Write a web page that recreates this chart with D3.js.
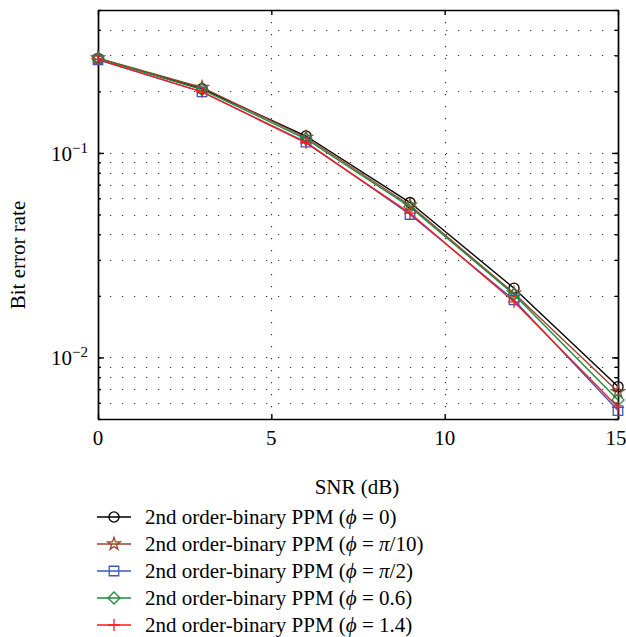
<!DOCTYPE html>
<meta charset="utf-8">
<style>
  body {margin: 0; background: #fff;}
  text {font-family: 'Liberation Serif', 'DejaVu Serif', serif; fill: #000;}
</style>
<body>
<svg width="626" height="637"></svg>
<script src="https://cdnjs.cloudflare.com/ajax/libs/d3/7.8.5/d3.min.js"></script>
<script>

// SNR values (dB)
var snr = [0, 3, 6, 9, 12, 15];

// bit error rate, one array per phase offset
var berPhi0     = [0.290, 0.206, 0.121, 0.0572, 0.0218, 0.0072];
var berPhiPi10  = [0.291, 0.209, 0.119, 0.0555, 0.0206, 0.0068];
var berPhiPi2   = [0.285, 0.199, 0.113, 0.0500, 0.0191, 0.0055];
var berPhi06    = [0.290, 0.204, 0.117, 0.0545, 0.0203, 0.0062];
var berPhi14    = [0.287, 0.199, 0.112, 0.0508, 0.0187, 0.0057];

var seriesPhi = ["0", "π/10", "π/2", "0.6", "1.4"];
var seriesItalicPi = [false, true, true, false, false];
var seriesColor = ["#000000", "#a0402c", "#3b57c4", "#1e8a3c", "#ff1a1a"];
var seriesMarker = ["circle", "star", "square", "diamond", "plus"];
var seriesValues = [berPhi0, berPhiPi10, berPhiPi2, berPhi06, berPhi14];

var xTicks = [0, 5, 10, 15];
var yMajor = [0.1, 0.01];
var yTickText = [["10", "−1"], ["10", "−2"]];

var svg = d3.select("svg");
var pLeft = 98, pRight = 618, pTop = 10, pBottom = 419;

var x = d3.scaleLinear().domain([0, 15]).range([pLeft, pRight]);
var y = d3.scaleLog().domain([0.005, 0.5]).range([pBottom, pTop]);

// minor grid values for the log axis
var yMinor = [];
[0.001, 0.01, 0.1].forEach(function(dec) {
  for (var k = 1; k <= 9; k++) {
    var v = +(dec * k).toPrecision(3);
    if (v >= 0.005 && v <= 0.5) yMinor.push(v);
  }
});

// dotted grid
var grid = svg.append("g")
    .attr("stroke", "#333")
    .attr("stroke-width", 1.2)
    .attr("stroke-dasharray", "1.2,10.8");

grid.selectAll("line.h")
    .data(yMinor.filter(function(v) { return v > 0.005 && v < 0.5; }))
  .enter().append("line")
    .attr("x1", pLeft).attr("x2", pRight)
    .attr("y1", function(d) { return Math.round(y(d)) + 0.5; })
    .attr("y2", function(d) { return Math.round(y(d)) + 0.5; });

grid.selectAll("line.v")
    .data(xTicks.filter(function(v) { return v > 0 && v < 15; }))
  .enter().append("line")
    .attr("y1", pTop).attr("y2", pBottom)
    .attr("x1", function(d) { return Math.round(x(d)) + 0.5; })
    .attr("x2", function(d) { return Math.round(x(d)) + 0.5; });

// axes with inward ticks
var axisBottom = d3.axisBottom(x).tickValues(xTicks).tickSizeInner(-5).tickSizeOuter(0).tickFormat("");
var axisTop = d3.axisTop(x).tickValues(xTicks).tickSizeInner(-5).tickSizeOuter(0).tickFormat("");
var axisLeft = d3.axisLeft(y).tickValues(yMinor).tickSizeInner(-3).tickSizeOuter(0).tickFormat("");
var axisRight = d3.axisRight(y).tickValues(yMinor).tickSizeInner(-3).tickSizeOuter(0).tickFormat("");
var axisLeftMajor = d3.axisLeft(y).tickValues(yMajor).tickSizeInner(-6).tickSizeOuter(0).tickFormat("");
var axisRightMajor = d3.axisRight(y).tickValues(yMajor).tickSizeInner(-6).tickSizeOuter(0).tickFormat("");

[[axisBottom, 0, pBottom], [axisTop, 0, pTop], [axisLeft, pLeft, 0], [axisRight, pRight, 0],
 [axisLeftMajor, pLeft, 0], [axisRightMajor, pRight, 0]].forEach(function(a) {
  var g = svg.append("g").attr("transform", "translate(" + a[1] + "," + a[2] + ")").call(a[0]);
  g.selectAll("path, line").attr("stroke", "#000").attr("stroke-width", 1.4);
});

// x tick labels
svg.append("g").selectAll("text")
    .data(xTicks)
  .enter().append("text")
    .attr("x", function(d) { return d === 15 ? x(d) - 2 : x(d); })
    .attr("y", 445)
    .attr("text-anchor", "middle")
    .style("font-size", "21px")
    .text(function(d) { return d; });

// y tick labels 10^-n
var yl = svg.append("g").selectAll("text")
    .data(yMajor)
  .enter().append("text")
    .attr("x", 88)
    .attr("y", function(d) { return y(d) + 8; })
    .attr("text-anchor", "end")
    .style("font-size", "21px");
yl.append("tspan").text(function(d, i) { return yTickText[i][0]; });
yl.append("tspan").attr("dy", -8).style("font-size", "15px")
    .text(function(d, i) { return yTickText[i][1]; });

// axis titles
svg.append("text")
    .attr("transform", "translate(25,255) rotate(-90)")
    .attr("text-anchor", "middle")
    .style("font-size", "21px")
    .text("Bit error rate");

svg.append("text")
    .attr("x", 357).attr("y", 494)
    .attr("text-anchor", "middle")
    .style("font-size", "21px")
    .text("SNR (dB)");

// marker shapes
function markerPath(type) {
  if (type === "circle") return d3.symbol().type(d3.symbolCircle).size(80)();
  if (type === "star") return d3.symbol().type(d3.symbolStar).size(50)();
  if (type === "square") return d3.symbol().type(d3.symbolSquare).size(90)();
  if (type === "diamond") return "M0,-6L6,0L0,6L-6,0Z";
  return "M-6,0H6M0,-6V6";
}

var line = d3.line()
    .x(function(d) { return x(d[0]); })
    .y(function(d) { return y(d[1]); });

seriesValues.forEach(function(vals, i) {
  var pts = snr.map(function(s, j) { return [s, vals[j]]; });
  var g = svg.append("g");
  g.append("path")
      .datum(pts)
      .attr("d", line)
      .attr("fill", "none")
      .attr("stroke", seriesColor[i])
      .attr("stroke-width", 1.4);
  g.selectAll("path.m")
      .data(pts)
    .enter().append("path")
      .attr("transform", function(d) { return "translate(" + x(d[0]) + "," + y(d[1]) + ")"; })
      .attr("d", markerPath(seriesMarker[i]))
      .attr("fill", "none")
      .attr("stroke", seriesColor[i])
      .attr("stroke-width", 1.3);
});

// legend
var legend = svg.append("g").selectAll("g")
    .data(seriesPhi)
  .enter().append("g")
    .attr("transform", function(d, i) { return "translate(0," + (517 + i * 27) + ")"; });

legend.append("line")
    .attr("x1", 97).attr("x2", 131)
    .attr("stroke", function(d, i) { return seriesColor[i]; })
    .attr("stroke-width", 1.4);
legend.append("path")
    .attr("transform", "translate(114,0)")
    .attr("d", function(d, i) { return markerPath(seriesMarker[i]); })
    .attr("fill", "none")
    .attr("stroke", function(d, i) { return seriesColor[i]; })
    .attr("stroke-width", 1.3);

var lt = legend.append("text")
    .attr("x", 145).attr("y", 7)
    .style("font-size", "21px");
lt.append("tspan").text("2nd order-binary PPM (");
lt.append("tspan").style("font-style", "italic").text("ϕ");
lt.append("tspan").text(" = ");
lt.each(function(d, i) {
  var t = d3.select(this);
  if (seriesItalicPi[i]) {
    t.append("tspan").style("font-style", "italic").text("π");
    t.append("tspan").text(d.slice(1));
  } else {
    t.append("tspan").text(d);
  }
  t.append("tspan").text(")");
});

</script>
</body>
